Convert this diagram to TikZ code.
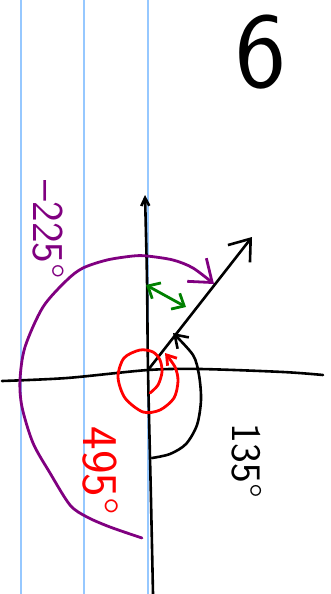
\documentclass[tikz,border=0pt]{standalone}
\usepackage{xcolor}
\usepackage{tikz}
\usetikzlibrary{arrows.meta}
\definecolor{ruleblue}{RGB}{150,200,255}
\definecolor{penpurple}{RGB}{128,0,128}
\definecolor{pengreen}{RGB}{0,128,0}
\tikzset{
  rule/.style ={ruleblue,line width=1.6pt},
  axis/.style ={black,line width=2.6pt,line cap=round,line join=round},
  turn/.style ={line width=2.8pt,line cap=round,line join=round},
  lbl/.style  ={rotate=-90,inner sep=0pt,font=\fontsize{44}{44}\selectfont\sffamily},
}

\begin{document}
\begin{tikzpicture}[x=1pt,y=-1pt]
  \useasboundingbox (0,0) rectangle (331,594);
  % ruled paper
  \foreach \x in {21,84,148}{
     \draw[rule] (\x,0) -- (\x,594);
  }
  % axes and the ray
  \coordinate (O) at (148,370);
  \coordinate (xl) at (2,381);
  \coordinate (xr) at (323,375);
  \coordinate (yt) at (145,195);
  \coordinate (yb) at (153,594);
  \coordinate (P) at (252,237);
  \draw[axis] plot[smooth] coordinates {(xl) (67,378) (O) (200,369) (283,372) (xr)};
  \draw[axis,-{Straight Barb[length=8pt,width=8pt]}] plot[smooth] coordinates {(yb) (151,500) (O) (147,280) (yt)};
  \draw[axis,-{Straight Barb[length=19pt,width=28pt]}] (O) -- (P);
  % 135 turn
  \coordinate (k1) at (152,458);
  \coordinate (k2) at (173,333);
  \draw[axis,-{Straight Barb[length=12pt,width=16pt]}] plot[smooth] coordinates {(k1) (170,454) (186,444) (197,425) (201,400) (199,375) (193,355) (k2)};
  % 495 turn
  \coordinate (r1) at (150,393);
  \coordinate (r2) at (165,353);
  \draw[turn,red,-{Straight Barb[length=9pt,width=12pt]}] plot[smooth] coordinates {(r1) (158,385) (162,372) (160,360) (153,352) (140,350) (124,358) (118,377) (125,398) (143,412) (160,410) (174,398) (178,381) (175,367) (r2)};
  % -225 turn
  \coordinate (q1) at (142,538);
  \coordinate (q2) at (214,284);
  \draw[turn,penpurple,-{Straight Barb[length=20pt,width=30pt]}] plot[smooth] coordinates {(q1) (110,527) (87,517) (70,505) (50,473) (33,443) (22,407) (20,380) (25,347) (43,307) (67,280) (83,268) (107,260) (133,256) (147,256) (173,260) (193,268) (q2)};
  % gap between ray and axis
  \coordinate (g1) at (146,285);
  \coordinate (g2) at (186,307);
  \draw[turn,pengreen,{Straight Barb[length=10pt,width=18pt]}-{Straight Barb[length=10pt,width=18pt]}] (g1) -- (g2);
  % labels
  \node[lbl,penpurple] (m225) at (48,230) {–225°};
  \node[lbl,red,font=\fontsize{50}{50}\selectfont\sffamily] (p495) at (100,471) {495°};
  \node[lbl,font=\fontsize{42}{42}\selectfont\sffamily] (p135) at (247,461) {135°};
  \node[inner sep=0pt,font=\fontsize{108}{108}\selectfont\sffamily] (num) at (261,52) {6};
\end{tikzpicture}
\end{document}
